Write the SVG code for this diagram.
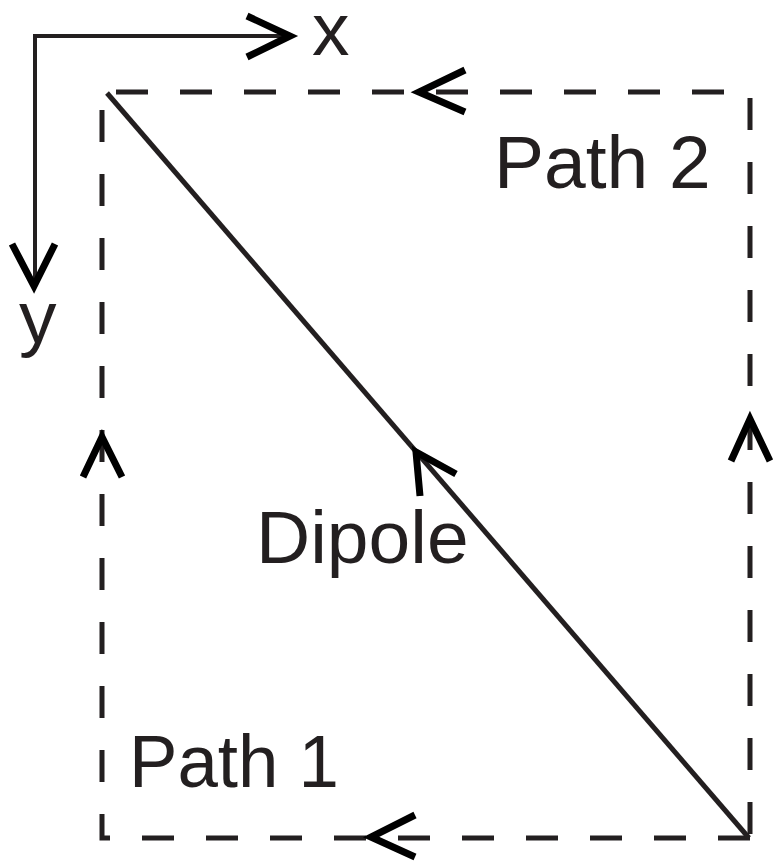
<svg xmlns="http://www.w3.org/2000/svg" width="773" height="862" viewBox="0 0 773 862">
<style>
.t{font-family:"Liberation Sans",Arial,sans-serif;font-size:75px;fill:#231f20}
.ax{fill:none;stroke:#231f20;stroke-width:4}
.ch{fill:none;stroke:#000;stroke-width:7;stroke-linecap:butt;stroke-linejoin:miter;stroke-miterlimit:10}
.dash{fill:none;stroke:#231f20;stroke-width:5;stroke-dasharray:32 32}
.dip{fill:none;stroke:#231f20;stroke-width:5}
</style>
<rect width="773" height="862" fill="#fff"/>
<g id="axes">
<polyline class="ax" points="290,36 35,36 35,288"/>
<polyline class="ch" points="247,16 290,36 247,57"/>
<polyline class="ch" points="12,244 34,286 55,244"/>
<text class="t" x="312" y="55">x</text>
<text class="t" x="19" y="343">y</text>
</g>
<g id="connectors">
<path id="paths-loop" class="dash" d="M750,838 H102 V92 H750 V838"/>
<line id="dipole-line" class="dip" x1="107" y1="93" x2="749" y2="838"/>
<polyline class="ch" points="465,70 419,92 465,112"/>
<polyline class="ch" points="415,815 371,837 415,857"/>
<polyline class="ch" points="83,477 102,437 122,477"/>
<polyline class="ch" points="731,461 750,419 770,461"/>
<polyline class="ch" points="420,496 416,452 456,474"/>
</g>
<g id="path2"><text class="t" x="494" y="188">Path 2</text></g>
<g id="dipole"><text class="t" x="256" y="563">Dipole</text></g>
<g id="path1"><text class="t" x="129" y="787" textLength="210" lengthAdjust="spacingAndGlyphs">Path 1</text></g>
</svg>
